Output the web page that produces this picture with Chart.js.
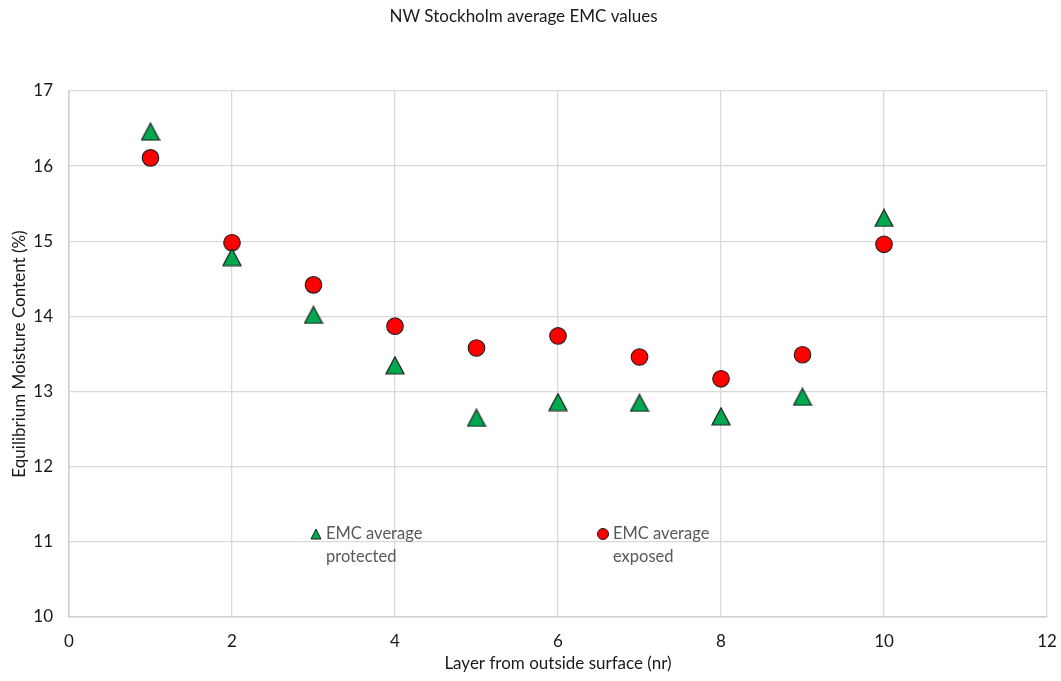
<!DOCTYPE html>
<html>
<head>
<meta charset="utf-8">
<title>NW Stockholm average EMC values</title>
<script src="https://cdn.jsdelivr.net/npm/chart.js@4.4.1/dist/chart.umd.min.js"></script>
<style>
  html, body { margin: 0; padding: 0; background: #ffffff; }
  #wrap { width: 1061px; height: 681px; position: relative; }
</style>
</head>
<body>
<div id="wrap"><canvas id="chart" width="1061" height="681"></canvas></div>
<script>
// Layer numbers (counted from the outside surface)
const layers = [1, 2, 3, 4, 5, 6, 7, 8, 9, 10];
// Average equilibrium moisture content (%) per layer
const emcProtected = [16.46, 14.79, 14.02, 13.35, 12.65, 12.86, 12.85, 12.67, 12.93, 15.31];
const emcExposed   = [16.11, 14.98, 14.42, 13.87, 13.58, 13.74, 13.46, 13.17, 13.49, 14.96];
const seriesNames  = ['EMC average protected', 'EMC average exposed'];
const legendLines  = [['EMC average', 'protected'], ['EMC average', 'exposed']];

const FONT = 'Lato, "Open Sans", sans-serif';
const GREEN = '#00a84f';
const RED = '#ff0000';
const EDGE = '#1f1f1f';
const TEXT = '#1a1a1a';

// Triangle marker whose box is centred on the point
function triangleMarker(w, h) {
  const c = document.createElement('canvas');
  c.width = w + 2; c.height = h + 2;
  const g = c.getContext('2d');
  g.beginPath();
  g.moveTo(c.width / 2, 1);
  g.lineTo(c.width - 1, c.height - 1);
  g.lineTo(1, c.height - 1);
  g.closePath();
  g.fillStyle = GREEN;
  g.fill();
  g.lineWidth = 1.2;
  g.strokeStyle = EDGE;
  g.stroke();
  return c;
}
const triMarker = triangleMarker(18, 17);

function points(xs, ys) { return xs.map((x, i) => ({ x: x, y: ys[i] })); }

// Legend drawn inside the plot area, two text lines per entry
const innerLegend = {
  id: 'innerLegend',
  afterDatasetsDraw(chart) {
    const ctx = chart.ctx;
    ctx.save();
    ctx.font = '16.5px ' + FONT;
    ctx.textBaseline = 'middle';
    ctx.textAlign = 'left';
    // protected entry
    ctx.beginPath();
    ctx.moveTo(316, 529); ctx.lineTo(321, 539); ctx.lineTo(311, 539); ctx.closePath();
    ctx.fillStyle = GREEN; ctx.fill();
    ctx.lineWidth = 1; ctx.strokeStyle = EDGE; ctx.stroke();
    ctx.fillStyle = '#595959';
    ctx.fillText(legendLines[0][0], 326, 534);
    ctx.fillText(legendLines[0][1], 326, 557);
    // exposed entry
    ctx.beginPath();
    ctx.arc(603, 534, 5.5, 0, Math.PI * 2);
    ctx.fillStyle = RED; ctx.fill();
    ctx.lineWidth = 1; ctx.strokeStyle = EDGE; ctx.stroke();
    ctx.fillStyle = '#595959';
    ctx.fillText(legendLines[1][0], 613, 534);
    ctx.fillText(legendLines[1][1], 613, 557);
    ctx.restore();
  }
};

new Chart(document.getElementById('chart'), {
  type: 'scatter',
  data: {
    datasets: [
      {
        label: seriesNames[0],
        data: points(layers, emcProtected),
        pointStyle: triMarker,
        backgroundColor: GREEN,
        borderColor: EDGE
      },
      {
        label: seriesNames[1],
        data: points(layers, emcExposed),
        pointStyle: 'circle',
        pointRadius: 8.3,
        pointBorderWidth: 1.1,
        backgroundColor: RED,
        borderColor: EDGE
      }
    ]
  },
  options: {
    responsive: false,
    animation: false,
    devicePixelRatio: 1,
    layout: { padding: { top: 0, right: 14, bottom: 7, left: 0 } },
    plugins: {
      legend: { display: false },
      tooltip: { enabled: false },
      title: {
        display: true,
        text: 'NW Stockholm average EMC values',
        color: TEXT,
        font: { family: FONT, size: 17, weight: 'normal', lineHeight: 1.2 },
        padding: { top: 6, bottom: 64.6 }
      }
    },
    scales: {
      x: {
        type: 'linear',
        min: 0, max: 12,
        ticks: { stepSize: 2, color: TEXT, padding: 14, font: { family: FONT, size: 17 } },
        grid: { color: '#d9d9d9', lineWidth: 1.3, drawTicks: false },
        border: { color: '#cfcfcf', width: 1.6 },
        title: {
          display: true,
          text: 'Layer from outside surface (nr)',
          color: TEXT,
          font: { family: FONT, size: 17, lineHeight: 1.2 },
          padding: { top: 0, bottom: 0 }
        },
        afterFit(scale) {
          scale.height = 57;
          scale.paddingLeft = 0;
          scale.paddingRight = 0;
        }
      },
      y: {
        type: 'linear',
        min: 10, max: 17,
        ticks: { stepSize: 1, color: TEXT, padding: 16, font: { family: FONT, size: 17 } },
        grid: { color: '#d9d9d9', lineWidth: 1.3, drawTicks: false },
        border: { color: '#cfcfcf', width: 1.6 },
        title: {
          display: true,
          text: 'Equilibrium Moisture Content (%)',
          color: TEXT,
          font: { family: FONT, size: 17, lineHeight: 1.2 },
          padding: { top: 9, bottom: 0 }
        },
        afterFit(scale) {
          scale.width = 69;
          scale.paddingTop = 0;
          scale.paddingBottom = 0;
        }
      }
    }
  },
  plugins: [innerLegend]
});
</script>
</body>
</html>
